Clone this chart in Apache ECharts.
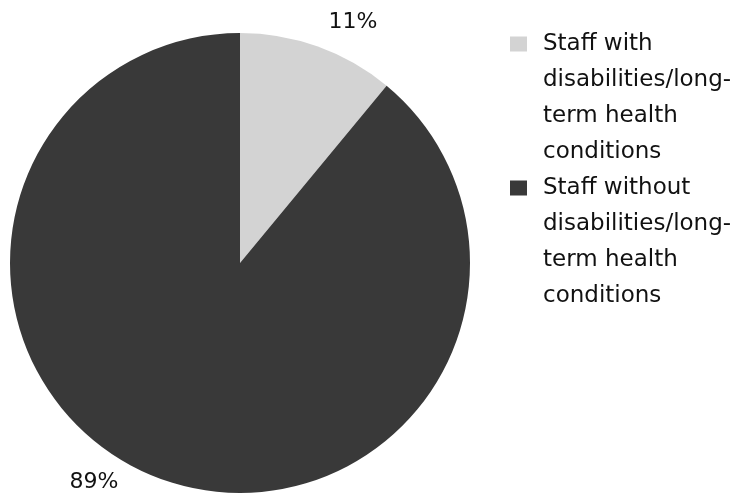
<!DOCTYPE html>
<html>
<head>
<meta charset="utf-8">
<script src="https://cdn.jsdelivr.net/npm/echarts@6/dist/echarts.min.js"></script>
<style>html,body{margin:0;padding:0;background:#fff}#chart{width:736px;height:497px}</style>
</head>
<body>
<div id="chart"></div>
<script>
const categories = [
  'Staff with\ndisabilities/long-\nterm health\nconditions',
  'Staff without\ndisabilities/long-\nterm health\nconditions'
];
const values = [11, 89];
const colors = ['#d3d3d3', '#393939'];

const chart = echarts.init(document.getElementById('chart'), null, {renderer: 'canvas'});
const FONT = '"DejaVu Sans", sans-serif';
const labelPos = [[353, 22], [94, 482]];

chart.setOption({
  animation: false,
  backgroundColor: '#ffffff',
  color: colors,
  legend: {
    orient: 'vertical',
    left: 505,
    top: 21,
    padding: 5,
    itemGap: 0,
    itemWidth: 17,
    itemHeight: 144,
    icon: 'path://M0,0L0.01,0M0,10.5L17,10.5L17,25.5L0,25.5ZM0,144L0.01,144',
    itemStyle: {borderWidth: 0},
    selectedMode: false,
    textStyle: {
      fontFamily: FONT,
      fontSize: 23,
      lineHeight: 36,
      color: '#111111',
      padding: [0, 0, 0, 11]
    },
    data: categories
  },
  series: [{
    type: 'pie',
    center: [240, 263],
    radius: [0, 230],
    startAngle: 90,
    clockwise: true,
    itemStyle: {borderWidth: 0},
    label: {
      show: true,
      position: 'outside',
      formatter: '{c}%',
      fontFamily: FONT,
      fontSize: 22,
      color: '#111111'
    },
    labelLine: {show: false},
    labelLayout: function (p) {
      const pos = labelPos[p.dataIndex];
      return {x: pos[0], y: pos[1], align: 'center', verticalAlign: 'middle'};
    },
    emphasis: {disabled: true},
    data: categories.map((c, i) => ({name: c, value: values[i]}))
  }]
});
</script>
</body>
</html>
